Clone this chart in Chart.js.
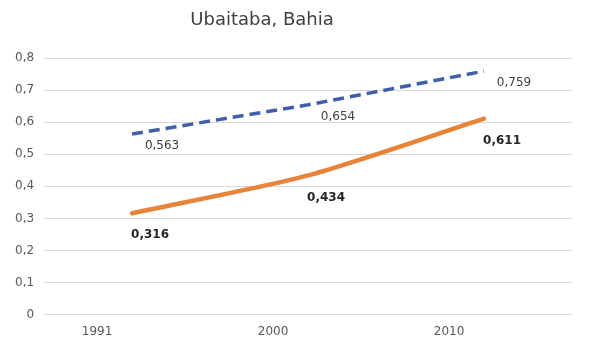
<!DOCTYPE html>
<html>
<head>
<meta charset="utf-8">
<script src="https://cdn.jsdelivr.net/npm/chart.js@4"></script>
<style>
  html, body { margin: 0; padding: 0; background: #fff; }
  #wrap { width: 590px; height: 354px; }
</style>
</head>
<body>
<div id="wrap"><canvas id="grafico"></canvas></div>
<script>
// dados
const anos = ["1991", "2000", "2010"];
const serieAzul = [0.563, 0.654, 0.759];
const serieLaranja = [0.316, 0.434, 0.611];
const ticksY = [0, 0.1, 0.2, 0.3, 0.4, 0.5, 0.6, 0.7, 0.8];

const fmt = (v) => String(v).replace(".", ",");

// título desenhado à mão (centro deslocado como no original)
const tituloPlugin = {
  id: "titulo",
  afterDraw(chart) {
    const ctx = chart.ctx;
    ctx.save();
    ctx.fillStyle = "#404040";
    ctx.font = "18px 'DejaVu Sans'";
    ctx.textAlign = "center";
    ctx.textBaseline = "middle";
    ctx.fillText("Ubaitaba, Bahia", 262, 20);
    ctx.restore();
  },
};

// rótulos de dados abaixo/à direita dos pontos
const rotulosPlugin = {
  id: "rotulos",
  afterDatasetsDraw(chart) {
    const ctx = chart.ctx;
    ctx.save();
    ctx.textAlign = "center";
    ctx.textBaseline = "middle";
    chart.data.datasets.forEach((ds, i) => {
      const meta = chart.getDatasetMeta(i);
      meta.data.forEach((pt, j) => {
        ctx.font = ds.rotuloNegrito ? "bold 12px 'DejaVu Sans'" : "12px 'DejaVu Sans'";
        ctx.fillStyle = ds.rotuloNegrito ? "#262626" : "#404040";
        ctx.fillText(fmt(ds.data[j]), pt.x + ds.rotuloDx, pt.y + ds.rotuloDy);
      });
    });
    ctx.restore();
  },
};

new Chart(document.getElementById("grafico"), {
  type: "line",
  data: {
    labels: anos,
    datasets: [
      {
        data: serieAzul,
        borderColor: "#3f5fa8",
        borderWidth: 3.5,
        borderDash: [11, 6],
        pointRadius: 0,
        tension: 0,
        rotuloNegrito: false,
        rotuloDx: 30,
        rotuloDy: 12,
      },
      {
        data: serieLaranja,
        borderColor: "#e8833a",
        borderWidth: 4.5,
        borderCapStyle: "round",
        pointRadius: 0,
        tension: 0.25,
        rotuloNegrito: true,
        rotuloDx: 18,
        rotuloDy: 22,
      },
    ],
  },
  options: {
    responsive: true,
    maintainAspectRatio: false,
    animation: false,
    layout: { padding: { top: 58, right: 18, left: 5, bottom: 5 } },
    plugins: {
      legend: { display: false },
      title: { display: false },
      tooltip: { enabled: false },
    },
    scales: {
      x: {
        offset: true,
        grid: { display: false, drawTicks: false },
        border: { display: false },
        ticks: {
          color: "#595959",
          font: { family: "DejaVu Sans", size: 12 },
          labelOffset: -35,
          padding: 10,
        },
      },
      y: {
        min: 0,
        max: 0.8,
        afterBuildTicks: (axis) => {
          axis.ticks = ticksY.map((v) => ({ value: v }));
        },
        grid: { color: "#d9d9d9", lineWidth: 1, drawTicks: false },
        border: { display: false },
        ticks: {
          color: "#595959",
          font: { family: "DejaVu Sans", size: 12 },
          padding: 10,
          callback: (v) => fmt(Math.round(v * 10) / 10),
        },
      },
    },
  },
  plugins: [tituloPlugin, rotulosPlugin],
});
</script>
</body>
</html>
